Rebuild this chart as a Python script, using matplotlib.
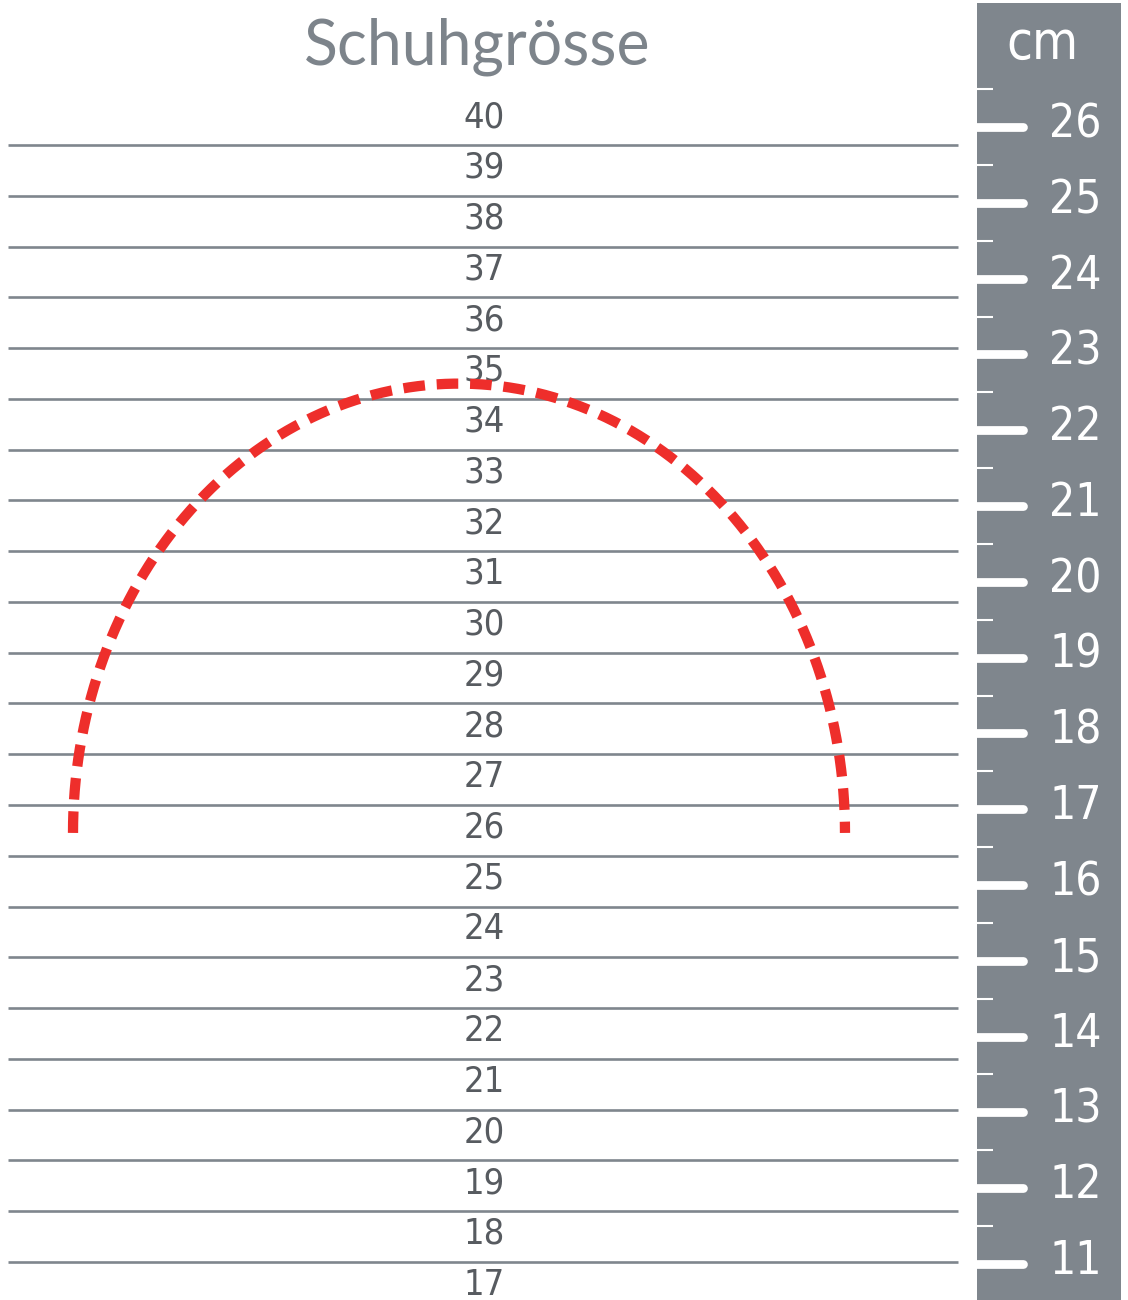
import numpy as np
import matplotlib
matplotlib.use("Agg")
import matplotlib.pyplot as plt

# ---------------- data ----------------
shoe_sizes = list(range(40, 16, -1))          # 40 ... 17
cm_major = list(range(26, 10, -1))            # 26 ... 11
cm_minor = [c + 0.5 for c in range(11, 27)]   # 11.5 ... 26.5
title = "Schuhgrösse"
unit_label = "cm"
# arch (foot outline) in shoe-size units
arch_base = 25.95
arch_top = 34.8

GRAY = "#7f868d"
TEXT = "#575b60"
RED = "#ee2e2b"

W, H = 1128, 1300
fig = plt.figure(figsize=(W / 100, H / 100), dpi=100)
fig.patch.set_facecolor("white")

# ---------- left: shoe size scale ----------
ax = fig.add_axes([0, 0, 1, 1])
ax.set_xlim(0, W)
ax.set_ylim(16.75, 42.356)
ax.axis("off")

bounds = [s - 0.5 for s in shoe_sizes[:-1]]
ax.hlines(bounds, 8, 958, color=GRAY, lw=1.9, zorder=1)

num_font = dict(family=["DejaVu Sans"], stretch="condensed")
for s in shoe_sizes:
    ax.text(484, s + 0.05, str(s), ha="center", va="center", fontsize=26,
            color=TEXT, zorder=3, **num_font)

t = np.linspace(0, np.pi, 400)
ax_x = 459 - 386 * np.cos(t)
ax_y = arch_base + (arch_top - arch_base) * np.sin(t)
ax.plot(ax_x, ax_y, color=RED, lw=7.4, linestyle=(0, (2.1, 1.15)),
        solid_capstyle="butt", dash_capstyle="butt", zorder=4)

ax.text(477, 42.356 - 47 / 50.77, title, ha="center", va="center",
        fontsize=45, color="#7d848b", family=["Lato", "DejaVu Sans"])

# ---------- right: cm ruler ----------
rx0, rx1 = 977, 1121
rax = fig.add_axes([rx0 / W, 0, (rx1 - rx0) / W, 1 - 3 / H])
rax.set_facecolor(GRAY)
rax.set_xlim(0, rx1 - rx0)
rax.set_ylim(10.525, 27.636)
for sp in rax.spines.values():
    sp.set_visible(False)
rax.set_xticks([])
rax.set_yticks([])

for c in cm_major:
    rax.plot([-10, 46], [c, c], color="white", lw=6.3, solid_capstyle="round")
    rax.text(72, c + 0.03, str(c), ha="left", va="center", fontsize=33,
             color="white", **num_font)
for c in cm_minor:
    rax.plot([0, 16], [c, c], color="white", lw=1.5, solid_capstyle="butt")

rax.text(65, 27.1, unit_label, ha="center", va="center", fontsize=38,
         color="white", **num_font)

fig.savefig("out.png", dpi=100, facecolor="white")
